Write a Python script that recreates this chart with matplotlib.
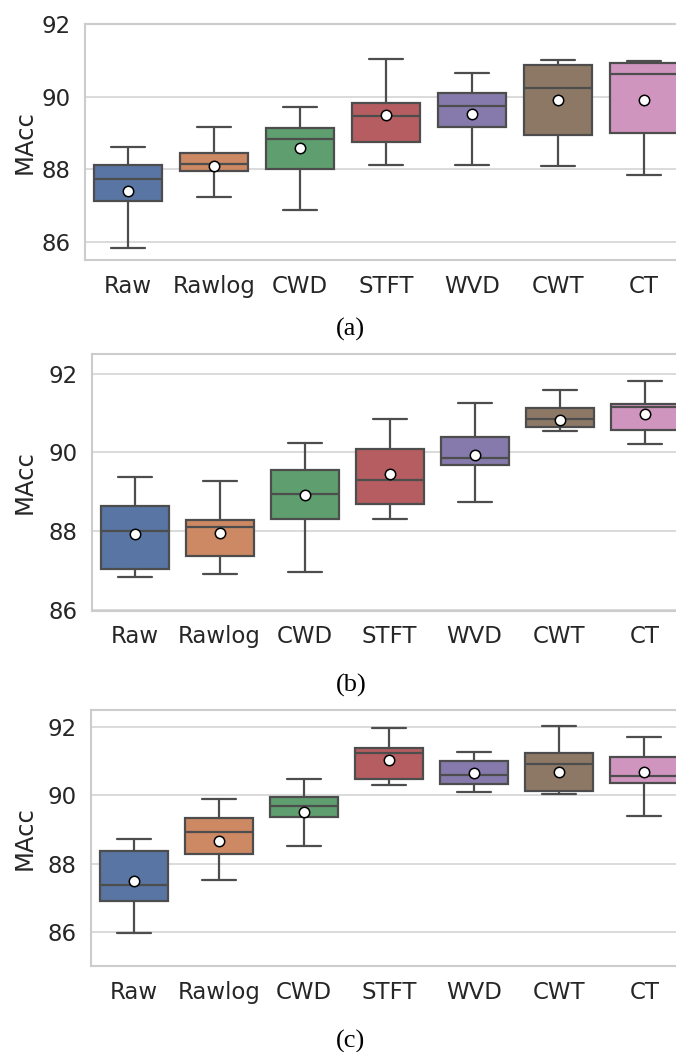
import matplotlib
matplotlib.use('Agg')
import matplotlib.pyplot as plt
import seaborn as sns

# categories and box statistics
methods = ['Raw', 'Rawlog', 'CWD', 'STFT', 'WVD', 'CWT', 'CT']

# (a)
a_whislo = [85.82, 87.23, 86.87, 88.11, 88.11, 88.10, 87.85]
a_q1 = [87.13, 87.94, 88.02, 88.75, 89.17, 88.95, 89.00]
a_med = [87.72, 88.14, 88.83, 89.46, 89.74, 90.25, 90.64]
a_q3 = [88.13, 88.44, 89.14, 89.82, 90.11, 90.88, 90.92]
a_whishi = [88.61, 89.17, 89.72, 91.03, 90.66, 91.02, 90.99]
a_mean = [87.41, 88.08, 88.59, 89.50, 89.53, 89.91, 89.91]

# (b)
b_whislo = [86.84, 86.91, 86.95, 88.31, 88.74, 90.54, 90.22]
b_q1 = [87.03, 87.38, 88.32, 88.69, 89.69, 90.64, 90.58]
b_med = [88.00, 88.11, 88.94, 89.31, 89.85, 90.86, 91.14]
b_q3 = [88.64, 88.28, 89.55, 90.08, 90.39, 91.13, 91.24]
b_whishi = [89.38, 89.27, 90.24, 90.86, 91.25, 91.58, 91.80]
b_mean = [87.93, 87.96, 88.91, 89.46, 89.94, 90.82, 90.98]

# (c)
c_whislo = [85.96, 87.53, 88.51, 90.29, 90.08, 90.04, 89.38]
c_q1 = [86.90, 88.27, 89.37, 90.47, 90.34, 90.12, 90.35]
c_med = [87.37, 88.93, 89.68, 91.22, 90.59, 90.92, 90.56]
c_q3 = [88.37, 89.34, 89.95, 91.39, 91.01, 91.23, 91.13]
c_whishi = [88.73, 89.88, 90.47, 91.98, 91.27, 92.02, 91.71]
c_mean = [87.49, 88.66, 89.51, 91.02, 90.65, 90.69, 90.68]

sns.set_style('whitegrid')
plt.rcParams['font.family'] = ['DejaVu Sans']
colors = sns.color_palette('deep', desat=0.75)
line_col = '#4d4d4d'
text_col = '#262626'

fig = plt.figure(figsize=(6.76, 10.52), dpi=100)

# data, axes rect, ylim, caption, caption y, ylabel x (axes coords)
panels = [
    ((a_whislo, a_q1, a_med, a_q3, a_whishi, a_mean), [0.1257, 0.7529, 0.8905, 0.2241], (85.5, 92.0), '(a)', 0.687, -0.080),
    ((b_whislo, b_q1, b_med, b_q3, b_whishi, b_mean), [0.1361, 0.4195, 0.8802, 0.2437], (85.98, 92.49), '(b)', 0.348, -0.093),
    ((c_whislo, c_q1, c_med, c_q3, c_whishi, c_mean), [0.1346, 0.0817, 0.8817, 0.2433], (85.0, 92.49), '(c)', 0.0105, -0.091),
]

for (wl, q1, med, q3, wh, mn), pos, ylim, lab, ly, lx in panels:
    ax = fig.add_axes(pos)
    stats = []
    for i in range(len(methods)):
        stats.append({'whislo': wl[i], 'q1': q1[i], 'med': med[i], 'q3': q3[i],
                      'whishi': wh[i], 'mean': mn[i], 'fliers': [], 'label': methods[i]})
    bp = ax.bxp(stats, positions=range(len(methods)), widths=0.8, patch_artist=True,
                showmeans=True, capwidths=0.4,
                boxprops=dict(edgecolor=line_col, linewidth=1.6),
                whiskerprops=dict(color=line_col, linewidth=1.6),
                capprops=dict(color=line_col, linewidth=1.6),
                medianprops=dict(color=line_col, linewidth=1.6),
                meanprops=dict(marker='o', markerfacecolor='white', markeredgecolor='black',
                               markersize=7.5, markeredgewidth=1.1))
    for patch, col in zip(bp['boxes'], colors):
        patch.set_facecolor(col)
    ax.set_xlim(-0.5, 6.5)
    ax.set_ylim(*ylim)
    ax.set_yticks([86, 88, 90, 92])
    ax.grid(axis='x', visible=False)
    ax.grid(axis='y', color='#d4d4d4', linewidth=1.2)
    for s in ax.spines.values():
        s.set_color('#cccccc')
        s.set_linewidth(1.5)
    ax.tick_params(axis='both', length=0, labelsize=16.5, labelcolor=text_col)
    ax.tick_params(axis='x', pad=10.5)
    ax.tick_params(axis='y', pad=10.5)
    ax.set_ylabel('MAcc', fontsize=17.5, color=text_col)
    ax.yaxis.set_label_coords(lx, 0.5)
    fig.text(0.519, ly, lab, ha='center', va='center', fontsize=19,
             family=['Liberation Serif'], color='black')

fig.savefig('out.png', dpi=100)
